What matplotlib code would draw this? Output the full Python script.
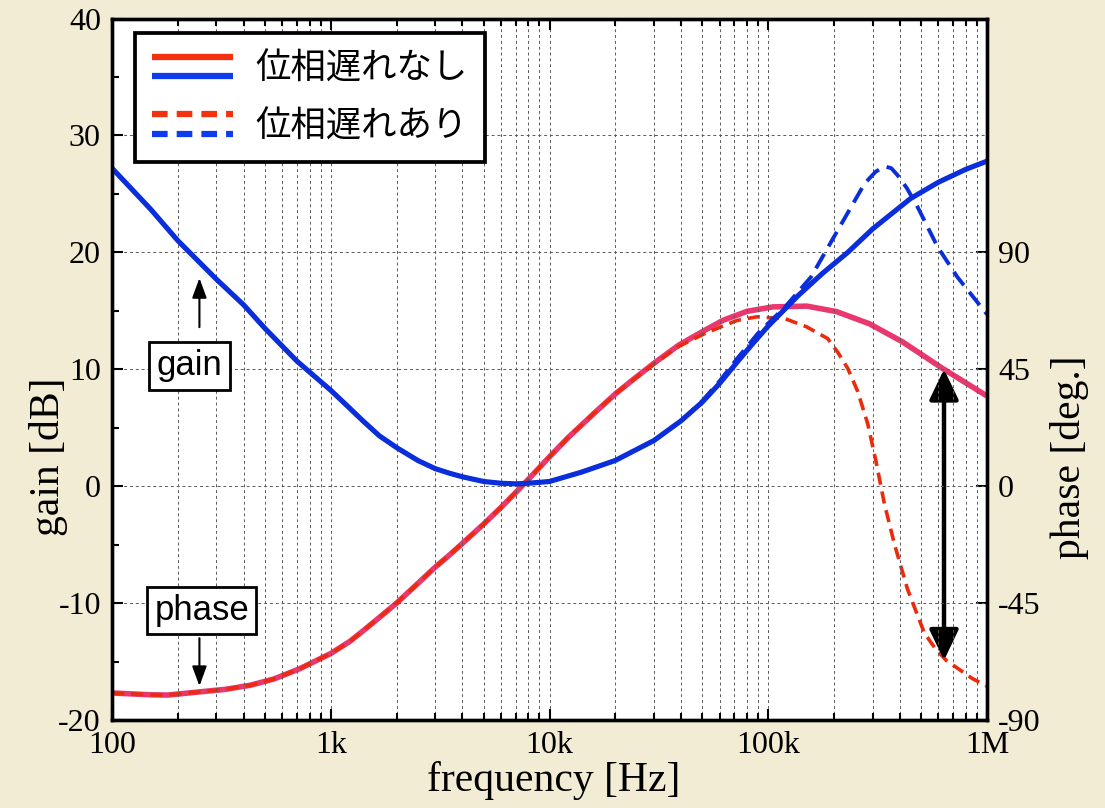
import numpy as np
import matplotlib.pyplot as plt
from matplotlib.lines import Line2D
from matplotlib.legend_handler import HandlerBase
from matplotlib.ticker import LogLocator, MultipleLocator, NullFormatter

plt.rcParams['font.family'] = ['Liberation Serif', 'DejaVu Serif']
plt.rcParams['axes.unicode_minus'] = False

# gain [dB] without phase lag
f_gain = [100, 150, 200, 300, 400, 500, 700, 1e3, 1.2e3, 1.4e3, 1.67e3, 2e3, 2.5e3, 3e3, 3.5e3,
          4e3, 5e3, 6e3, 7e3, 8e3, 1e4, 1.4e4, 2e4, 3e4, 4e4, 5e4, 6e4, 7.2e4, 8.5e4, 1e5,
          1.37e5, 1.77e5, 2.31e5, 3e5, 4.47e5, 6e5, 8e5, 1e6]
gain = [27.2, 23.7, 21.0, 17.7, 15.5, 13.5, 10.7, 8.2, 6.8, 5.6, 4.3, 3.3, 2.2, 1.5, 1.1,
        0.8, 0.4, 0.25, 0.2, 0.25, 0.4, 1.2, 2.2, 3.9, 5.6, 7.2, 8.8, 10.6, 12.2, 13.7,
        16.3, 18.2, 20.0, 22.0, 24.6, 26.0, 27.1, 27.8]

# gain [dB] with phase lag
f_gain_lag = [100, 150, 200, 300, 400, 500, 700, 1e3, 1.2e3, 1.4e3, 1.67e3, 2e3, 2.5e3, 3e3,
              3.5e3, 4e3, 5e3, 6e3, 7e3, 8e3, 1e4, 1.4e4, 2e4, 3e4, 4e4, 5e4, 6e4, 7.2e4, 9e4,
              1.19e5, 1.57e5, 2.08e5, 2.76e5, 3.1e5, 3.4e5, 3.65e5, 3.9e5, 4.3e5, 4.81e5,
              5.93e5, 7.31e5, 1e6]
gain_lag = [27.2, 23.7, 21.0, 17.7, 15.5, 13.5, 10.7, 8.2, 6.8, 5.6, 4.3, 3.3, 2.2, 1.5,
            1.1, 0.8, 0.4, 0.25, 0.2, 0.25, 0.4, 1.2, 2.2, 3.9, 5.6, 7.3, 9.0, 10.9, 13.1,
            15.3, 17.9, 21.9, 25.9, 26.9, 27.35, 27.2, 26.6, 25.5, 23.9,
            20.5, 17.9, 14.7]

# phase [deg] without phase lag
f_phase = [100, 150, 180, 250, 330, 430, 550, 720, 1e3, 1.22e3, 1.4e3, 1.67e3, 2e3, 2.46e3,
           3e3, 3.5e3, 4e3, 5e3, 6e3, 7e3, 8e3, 1e4, 1.22e4, 1.62e4, 2e4, 2.45e4, 3e4, 3.9e4,
           5e4, 6.2e4, 8e4, 1.05e5, 1.5e5, 2.05e5, 2.9e5, 4.1e5, 6.27e5, 1e6]
phase = [-79.6, -80.3, -80.4, -79.2, -78.2, -76.6, -74.2, -70.3, -64.4, -59.8, -55.8, -50.5,
         -45.0, -38.0, -31.2, -26.4, -22.0, -14.6, -8.2, -2.5, 2.6, 11.3, 18.8, 28.5, 35.5,
         41.5, 47.3, 54.3, 59.5, 63.8, 67.3, 69.0, 69.3, 67.2, 62.5, 55.6, 45.3, 34.7]

# phase [deg] with phase lag
f_phase_lag = [100, 150, 180, 250, 330, 430, 550, 720, 1e3, 1.22e3, 1.4e3, 1.67e3, 2e3, 2.46e3,
               3e3, 3.5e3, 4e3, 5e3, 6e3, 7e3, 8e3, 1e4, 1.22e4, 1.62e4, 2e4, 2.45e4, 3e4,
               3.9e4, 5.2e4, 7.2e4, 8.9e4, 1.2e5, 1.5e5, 1.87e5, 2.08e5, 2.31e5, 2.56e5,
               2.85e5, 3.1e5, 3.4e5, 3.78e5, 4.33e5, 5.17e5, 5.8e5, 6.5e5, 8.55e5, 1e6]
phase_lag = [-79.6, -80.3, -80.4, -79.2, -78.2, -76.6, -74.2, -70.3, -64.4, -59.8, -55.8,
             -50.5, -45.0, -38.0, -31.2, -26.4, -22.0, -14.6, -8.2, -2.5, 2.6, 11.3, 18.8,
             28.5, 35.5, 41.3, 47.0, 53.8, 59.0, 63.8, 65.2, 64.4, 61.3, 56.8, 51.5, 45.3,
             36.6, 24.0, 10.0, -7.0, -22.5, -39.6, -56.5, -62.5, -67.0, -74.0, -77.0]

freq_ticks = [1e2, 1e3, 1e4, 1e5, 1e6]
freq_labels = ['100', '1k', '10k', '100k', '1M']
phase_ticks = [-90, -45, 0, 45, 90]

BLUE = '#0B2EDC'
PINK = '#E8386E'
RED = '#EC2A0C'
LRED = '#F5300F'
LBLUE = '#0F3BEE'
SANS_JP = ['Noto Sans CJK JP', 'DejaVu Sans']
SANS = ['Liberation Sans', 'DejaVu Sans']


class Pair:
    def __init__(self, dashed):
        self.dashed = dashed


class PairHandler(HandlerBase):
    def create_artists(self, legend, orig_handle, xdescent, ydescent, width, height, fontsize, trans):
        x0, x1 = -xdescent, -xdescent + width
        yc = -ydescent + height / 2
        dy = 0.28 * fontsize
        kw = dict(lw=4.5, solid_capstyle='butt', dash_capstyle='butt', transform=trans)
        if orig_handle.dashed:
            kw['dashes'] = (2.5, 1.45)
        top = Line2D([x0, x1], [yc + dy, yc + dy], color=LRED, **kw)
        bot = Line2D([x0, x1], [yc - dy, yc - dy], color=LBLUE, **kw)
        return [top, bot]


fig = plt.figure(figsize=(11.05, 8.08), dpi=100)
fig.patch.set_facecolor('#F3ECD4')
ax = fig.add_axes([112 / 1105, 1 - 720 / 808, 875 / 1105, 701.5 / 808])
ax2 = ax.twinx()
ax.set_zorder(ax2.get_zorder() + 1)
ax.patch.set_visible(False)
ax2.patch.set_visible(True)
ax2.patch.set_facecolor('white')

# phase (right axis)
ax2.plot(f_phase, phase, color=PINK, lw=4.0, solid_capstyle='butt', solid_joinstyle='round')
ax2.plot(f_phase_lag, phase_lag, color=RED, lw=2.6, dashes=(3.4, 1.9))
ax2.set_ylim(-90, 180)
ax2.set_yticks(phase_ticks)
ax2.tick_params(axis='y', direction='in', length=8, width=1.5, labelsize=23, pad=8)
ax2.set_ylabel('phase [deg.]', fontsize=30)
ax2.yaxis.set_label_coords(1.072, 0.375)

# gain (left axis)
ax.plot(f_gain, gain, color=BLUE, lw=3.7, solid_capstyle='butt', solid_joinstyle='round')
ax.plot(f_gain_lag, gain_lag, color=BLUE, lw=2.8, dashes=(4.3, 2.2))
ax.set_xscale('log')
ax.set_xlim(100, 1e6)
ax.set_ylim(-20, 40)
ax.xaxis.set_major_locator(LogLocator(base=10, numticks=10))
ax.xaxis.set_minor_locator(LogLocator(base=10, subs=np.arange(2, 10), numticks=20))
ax.xaxis.set_minor_formatter(NullFormatter())
ax.set_xticks(freq_ticks, freq_labels)
ax.yaxis.set_major_locator(MultipleLocator(10))
ax.yaxis.set_minor_locator(MultipleLocator(5))
ax.tick_params(which='both', direction='in', top=True, right=False, width=1.5, labelsize=23, pad=8)
ax.tick_params(which='major', length=8)
ax.tick_params(which='minor', length=5)
ax.grid(which='both', axis='x', ls=(0, (3, 3)), lw=0.7, color='0.35')
ax.grid(which='major', axis='y', ls=(0, (3, 3)), lw=0.7, color='0.35')
ax.set_xlabel('frequency [Hz]', fontsize=30)
ax.xaxis.set_label_coords(0.505, -0.058)
ax.set_ylabel('gain [dB]', fontsize=30)
ax.yaxis.set_label_coords(-0.05, 0.375)

for a in (ax, ax2):
    for s in a.spines.values():
        s.set_linewidth(2.4)

# annotations
ax.annotate('', xy=(251, 17.8), xytext=(251, 13.6),
            arrowprops=dict(arrowstyle='-|>,head_length=0.6,head_width=0.22', mutation_scale=20,
                            lw=1.5, color='k', shrinkA=0, shrinkB=0))
ax.text(225, 10.3, 'gain', ha='center', va='center', fontsize=25, family=SANS,
        bbox=dict(boxstyle='square,pad=0.22', fc='white', ec='k', lw=2))
ax.annotate('', xy=(251, -17.1), xytext=(251, -13.0),
            arrowprops=dict(arrowstyle='-|>,head_length=0.6,head_width=0.22', mutation_scale=20,
                            lw=1.5, color='k', shrinkA=0, shrinkB=0))
ax.text(257, -10.6, 'phase', ha='center', va='center', fontsize=25, family=SANS,
        bbox=dict(boxstyle='square,pad=0.2', fc='white', ec='k', lw=2))
ax2.annotate('', xy=(6.36e5, 45), xytext=(6.36e5, -67),
             arrowprops=dict(arrowstyle='<|-|>,head_length=0.75,head_width=0.36', mutation_scale=25,
                             lw=3.2, color='k', shrinkA=0, shrinkB=0))

leg = ax.legend([Pair(False), Pair(True)], ['位相遅れなし', '位相遅れあり'],
                handler_map={Pair: PairHandler()}, loc='upper left',
                bbox_to_anchor=(0.026, 0.979), borderaxespad=0, borderpad=0.5,
                handlelength=2.28, handletextpad=0.63, labelspacing=0.6,
                fancybox=False, framealpha=1, edgecolor='k',
                prop={'family': SANS_JP, 'size': 25.5})
leg.get_frame().set_linewidth(2.7)

fig.savefig('out.png', dpi=100, facecolor=fig.get_facecolor())
